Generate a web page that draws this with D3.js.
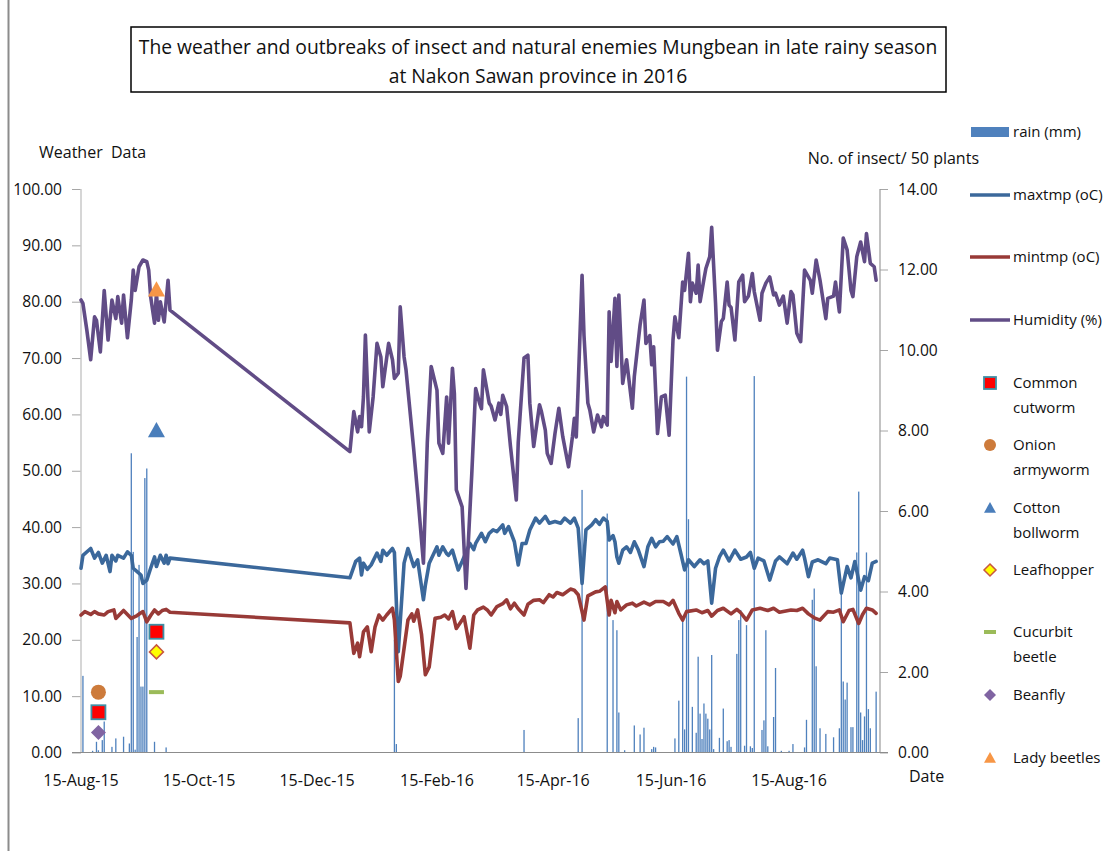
<!DOCTYPE html>
<html>
<head>
<meta charset="utf-8">
<script src="https://cdn.jsdelivr.net/npm/d3@7"></script>
<style>
  body { margin: 0; background: #fff; }
  text { font-family: "Open Sans", sans-serif; fill: #111; }
</style>
</head>
<body>
<svg id="chart" width="1113" height="851"></svg>
<script>
// weather series as [date, value]
const humidity = [
  ["2015-08-15",80.3],["2015-08-16",79.7],["2015-08-18",75],["2015-08-20",69.7],["2015-08-22",77.3],["2015-08-23",76.7],
  ["2015-08-25",71.1],["2015-08-27",82],["2015-08-29",73.2],["2015-08-31",80.3],["2015-09-02",77],["2015-09-03",80.9],
  ["2015-09-05",76.2],["2015-09-06",81.2],["2015-09-08",73.6],["2015-09-10",80.3],["2015-09-11",85.6],["2015-09-12",82],
  ["2015-09-14",86.2],["2015-09-16",87.4],["2015-09-18",87.1],["2015-09-19",85.6],["2015-09-20",80.9],["2015-09-22",76.2],
  ["2015-09-23",81.5],["2015-09-24",76.7],["2015-09-25",80],["2015-09-27",76.4],["2015-09-29",83.8],["2015-09-30",78.5],
  ["2016-01-01",53.4],["2016-01-03",60.5],["2016-01-05",56.9],["2016-01-06",59.6],["2016-01-07",57.8],["2016-01-08",63.1],
  ["2016-01-09",74.1],["2016-01-11",56.9],["2016-01-13",63.1],["2016-01-15",72.6],["2016-01-17",70.2],["2016-01-18",64.9],
  ["2016-01-21",72.6],["2016-01-23",69.7],["2016-01-24",66.4],["2016-01-26",67.3],["2016-01-27",79.1],["2016-01-29",70.2],
  ["2016-01-30",67.9],["2016-02-03",53.7],["2016-02-05",46],["2016-02-08",33.6],["2016-02-10",55],["2016-02-12",68.5],
  ["2016-02-15",64.3],["2016-02-16",54.9],["2016-02-18",53.1],["2016-02-20",63.1],["2016-02-21",54.9],["2016-02-23",68.2],
  ["2016-02-24",63.7],["2016-02-25",46.6],["2016-02-28",43.6],["2016-03-01",29.1],["2016-03-04",49.5],["2016-03-06",64.6],
  ["2016-03-08",62],["2016-03-09",61],["2016-03-10",67.9],["2016-03-13",62],["2016-03-14",61.5],["2016-03-16",59],
  ["2016-03-18",62],["2016-03-19",60],["2016-03-20",63.4],["2016-03-22",61.4],["2016-03-24",54.3],["2016-03-27",44.8],
  ["2016-03-28",55],["2016-03-31",70],["2016-04-02",70.5],["2016-04-03",62],["2016-04-05",54.3],["2016-04-08",61.7],
  ["2016-04-09",60.5],["2016-04-11",57.2],["2016-04-12",53.1],["2016-04-14",51.3],["2016-04-16",56.6],["2016-04-18",61.1],
  ["2016-04-20",56.1],["2016-04-23",50.7],["2016-04-25",56],["2016-04-26",59.3],["2016-04-27",56],["2016-04-28",65],
  ["2016-04-30",84.7],["2016-05-01",74],["2016-05-03",62],["2016-05-04",60.8],["2016-05-06",56.9],["2016-05-08",59.9],
  ["2016-05-10",57.8],["2016-05-11",59.6],["2016-05-13",58.1],["2016-05-14",78.2],["2016-05-15",69.4],["2016-05-17",80.6],
  ["2016-05-18",68.5],["2016-05-19",81.2],["2016-05-21",65.5],["2016-05-23",69.7],["2016-05-26",61.1],["2016-05-27",66.7],
  ["2016-05-30",75.9],["2016-06-01",80.3],["2016-06-02",72.6],["2016-06-04",74],["2016-06-05",68.8],["2016-06-06",72],
  ["2016-06-08",56.6],["2016-06-10",63.1],["2016-06-12",63.4],["2016-06-14",56.3],["2016-06-16",73.2],["2016-06-17",77.3],
  ["2016-06-19",73.6],["2016-06-21",83.5],["2016-06-22",82],["2016-06-24",88.6],["2016-06-25",80],["2016-06-26",83.3],
  ["2016-06-28",81.5],["2016-06-29",86.5],["2016-06-30",80],["2016-07-02",84],["2016-07-03",85.9],["2016-07-05",88],
  ["2016-07-06",93.2],["2016-07-08",79.7],["2016-07-09",71.4],["2016-07-11",76.5],["2016-07-12",77],["2016-07-14",83.5],
  ["2016-07-15",79.4],["2016-07-16",79],["2016-07-18",73.2],["2016-07-20",83.5],["2016-07-22",84.7],["2016-07-23",80],
  ["2016-07-25",81],["2016-07-27",85],["2016-07-28",81.8],["2016-07-31",76.7],["2016-08-01",81.5],["2016-08-03",83.3],
  ["2016-08-05",84.4],["2016-08-07",81.2],["2016-08-08",81.5],["2016-08-10",79.4],["2016-08-12",81],["2016-08-14",76.2],
  ["2016-08-16",81.8],["2016-08-17",81.2],["2016-08-19",74.4],["2016-08-21",72.9],["2016-08-23",85.6],["2016-08-26",83.8],
  ["2016-08-27",81.5],["2016-08-29",87.4],["2016-08-31",83.8],["2016-09-03",77],["2016-09-04",80.6],["2016-09-07",81],
  ["2016-09-08",83.5],["2016-09-10",78.2],["2016-09-12",91.3],["2016-09-14",89.2],["2016-09-16",82],["2016-09-17",80.9],
  ["2016-09-19",88],["2016-09-21",90.6],["2016-09-23",87.1],["2016-09-24",92.1],["2016-09-26",86.8],["2016-09-28",86.2],
  ["2016-09-29",83.8]
];

const maxtmp = [
  ["2015-08-15",32.7],["2015-08-16",35],["2015-08-20",36.2],["2015-08-22",34.5],["2015-08-24",35.5],["2015-08-26",33.6],
  ["2015-08-28",35],["2015-08-30",32.1],["2015-08-31",35],["2015-09-02",34],["2015-09-03",35],["2015-09-06",34.5],
  ["2015-09-08",35.6],["2015-09-10",35],["2015-09-11",32.7],["2015-09-13",32.1],["2015-09-15",31.5],["2015-09-16",30],
  ["2015-09-18",30.6],["2015-09-20",32.7],["2015-09-22",34.7],["2015-09-23",33],["2015-09-25",35],["2015-09-27",33.6],
  ["2015-09-28",35],["2015-09-29",33.5],["2015-09-30",34.5],
  ["2016-01-01",31],["2016-01-04",33.9],["2016-01-06",34.5],["2016-01-07",31.5],["2016-01-08",33.6],["2016-01-10",32.5],
  ["2016-01-12",33.3],["2016-01-15",35.4],["2016-01-17",33.9],["2016-01-18",35.9],["2016-01-20",35],["2016-01-23",36.2],
  ["2016-01-24",35.5],["2016-01-26",17.9],["2016-01-29",33.6],["2016-01-31",36.2],["2016-02-03",33],["2016-02-05",34.2],
  ["2016-02-08",27.1],["2016-02-09",29.7],["2016-02-11",33.6],["2016-02-15",36.5],["2016-02-16",35],["2016-02-18",36.5],
  ["2016-02-20",35.3],["2016-02-21",35],["2016-02-23",35.9],["2016-02-26",32.4],["2016-02-28",33.9],["2016-02-29",34.7],
  ["2016-03-03",37.1],["2016-03-05",36],["2016-03-06",37.1],["2016-03-09",38.9],["2016-03-11",37.4],["2016-03-13",38.9],
  ["2016-03-15",39.5],["2016-03-17",39.2],["2016-03-20",40.4],["2016-03-21",38.9],["2016-03-23",40.1],["2016-03-26",37.4],
  ["2016-03-28",33.3],["2016-03-30",37.1],["2016-04-01",37.1],["2016-04-03",39.5],["2016-04-06",41.6],["2016-04-08",40.7],
  ["2016-04-11",41.9],["2016-04-13",40.7],["2016-04-16",41],["2016-04-19",40.7],["2016-04-21",41.6],["2016-04-24",40.7],
  ["2016-04-26",41.6],["2016-04-28",39.8],["2016-04-30",30],["2016-05-02",39.5],["2016-05-05",40.4],["2016-05-07",41.3],
  ["2016-05-09",40.5],["2016-05-11",41.6],["2016-05-13",41],["2016-05-14",37.7],["2016-05-16",38.5],["2016-05-17",37.4],
  ["2016-05-18",34.7],["2016-05-19",33.6],["2016-05-21",35.9],["2016-05-23",36.5],["2016-05-25",35.5],["2016-05-27",37.4],
  ["2016-05-29",36],["2016-06-01",33],["2016-06-03",36.5],["2016-06-05",38],["2016-06-07",36.5],["2016-06-09",37.4],
  ["2016-06-11",37.5],["2016-06-13",38.3],["2016-06-16",37],["2016-06-18",38.3],["2016-06-20",35.4],["2016-06-22",32.4],
  ["2016-06-24",34.2],["2016-06-27",33],["2016-06-30",34.2],["2016-07-02",33.5],["2016-07-04",34],["2016-07-06",26.5],
  ["2016-07-08",32.7],["2016-07-10",34.7],["2016-07-12",35.9],["2016-07-15",34],["2016-07-18",35.9],["2016-07-21",34.3],
  ["2016-07-24",34.7],["2016-07-26",35.5],["2016-07-28",32.7],["2016-07-30",34.5],["2016-08-02",34],["2016-08-05",30.6],
  ["2016-08-08",34],["2016-08-10",34.7],["2016-08-14",33.5],["2016-08-17",35.4],["2016-08-19",34.3],["2016-08-22",35.9],
  ["2016-08-23",34.5],["2016-08-25",31.2],["2016-08-27",33.8],["2016-08-30",34.2],["2016-09-03",33.5],["2016-09-05",34.5],
  ["2016-09-09",34.2],["2016-09-11",28.3],["2016-09-14",33],["2016-09-16",31],["2016-09-18",33.9],["2016-09-21",28.8],
  ["2016-09-23",31.2],["2016-09-25",30.5],["2016-09-27",33.6],["2016-09-29",33.9]
];

const mintmp = [
  ["2015-08-15",24.4],["2015-08-17",25],["2015-08-20",24.5],["2015-08-22",25],["2015-08-24",24.6],["2015-08-27",24.4],
  ["2015-08-29",25],["2015-09-01",25.3],["2015-09-02",23.8],["2015-09-06",25.2],["2015-09-08",24.5],["2015-09-10",23.8],
  ["2015-09-13",24.3],["2015-09-15",24.8],["2015-09-16",25],["2015-09-18",23.2],["2015-09-20",24.3],["2015-09-22",25.3],
  ["2015-09-24",24.6],["2015-09-26",25.2],["2015-09-28",25.4],["2015-09-30",24.9],
  ["2016-01-01",23],["2016-01-03",17.6],["2016-01-05",19.4],["2016-01-06",17],["2016-01-08",21.4],["2016-01-10",22.3],
  ["2016-01-12",17.9],["2016-01-14",22.3],["2016-01-16",24.4],["2016-01-18",23.5],["2016-01-20",24.4],["2016-01-23",25.6],
  ["2016-01-24",23.5],["2016-01-26",12.6],["2016-01-27",13.5],["2016-01-31",23.5],["2016-02-02",24.6],["2016-02-03",23.3],
  ["2016-02-05",25.3],["2016-02-07",21],["2016-02-09",13.8],["2016-02-11",15.2],["2016-02-14",23.8],["2016-02-17",24],
  ["2016-02-19",24.4],["2016-02-21",23.7],["2016-02-23",25],["2016-02-25",22],["2016-02-28",23.5],["2016-02-29",24.1],
  ["2016-03-03",18.5],["2016-03-05",24.4],["2016-03-07",25.3],["2016-03-10",25.8],["2016-03-12",25.3],["2016-03-14",24.4],
  ["2016-03-17",25.9],["2016-03-20",26.4],["2016-03-22",27.1],["2016-03-24",25.5],["2016-03-26",26.5],["2016-03-28",25.5],
  ["2016-03-31",24.4],["2016-04-02",26.3],["2016-04-05",27],["2016-04-08",27.1],["2016-04-10",26.6],["2016-04-13",28],
  ["2016-04-15",27.6],["2016-04-17",28.4],["2016-04-20",28],["2016-04-24",29],["2016-04-26",28.8],["2016-04-28",28],
  ["2016-05-01",23.5],["2016-05-03",27.8],["2016-05-07",28.5],["2016-05-09",28.6],["2016-05-12",29.4],["2016-05-14",24.4],
  ["2016-05-15",27],["2016-05-17",24.8],["2016-05-18",26.8],["2016-05-20",25.3],["2016-05-23",26.2],["2016-05-26",26.5],
  ["2016-05-28",26],["2016-06-01",26.7],["2016-06-04",26.2],["2016-06-07",26.8],["2016-06-11",26.8],["2016-06-14",26.2],
  ["2016-06-16",27],["2016-06-19",24.7],["2016-06-21",23.5],["2016-06-23",25],["2016-06-28",25.3],["2016-07-01",24.8],
  ["2016-07-04",25.2],["2016-07-06",24.2],["2016-07-09",25.2],["2016-07-12",25.6],["2016-07-16",24.6],["2016-07-19",25.4],
  ["2016-07-21",24.8],["2016-07-24",23.5],["2016-07-27",25.3],["2016-07-31",25.6],["2016-08-04",25.2],["2016-08-07",25.6],
  ["2016-08-10",24.9],["2016-08-16",25.3],["2016-08-19",25.2],["2016-08-22",25.6],["2016-08-25",24.6],["2016-08-28",23.9],
  ["2016-08-31",23.5],["2016-09-04",25],["2016-09-07",24.9],["2016-09-10",25.3],["2016-09-12",23.2],["2016-09-15",25.2],
  ["2016-09-17",25.4],["2016-09-20",22.9],["2016-09-22",24.5],["2016-09-24",25.6],["2016-09-27",25.3],["2016-09-29",24.7]
];

const rain = [
  ["2015-08-16",13.6],["2015-08-21",0.3],["2015-08-23",1.9],["2015-08-24",0.4],["2015-08-26",2.2],["2015-08-27",5.5],
  ["2015-08-31",1],["2015-09-02",2.5],["2015-09-06",2.8],["2015-09-09",1.6],["2015-09-10",53.1],["2015-09-11",35.6],
  ["2015-09-12",0.5],["2015-09-13",20.5],["2015-09-14",33.3],["2015-09-15",11.7],["2015-09-16",11.7],["2015-09-17",48.7],
  ["2015-09-18",50.4],["2015-09-22",1.9],["2015-09-28",0.9],
  ["2016-01-24",20],["2016-01-25",1.5],["2016-03-31",4],["2016-04-28",6.1],["2016-04-30",46.6],["2016-05-13",42.4],
  ["2016-05-16",23.5],["2016-05-18",21.7],["2016-05-19",7.1],["2016-05-22",0.4],["2016-05-27",4.8],["2016-05-30",3.2],
  ["2016-06-01",4.4],["2016-06-05",0.6],["2016-06-06",1],["2016-06-07",0.9],["2016-06-17",2.5],["2016-06-19",9.2],
  ["2016-06-21",24],["2016-06-22",4.1],["2016-06-23",66.7],["2016-06-24",41.4],["2016-06-26",8.1],["2016-06-28",3.5],
  ["2016-06-29",17],["2016-06-30",6.9],["2016-07-01",2.4],["2016-07-02",8.7],["2016-07-03",6.9],["2016-07-04",6],
  ["2016-07-05",4.1],["2016-07-06",17.3],["2016-07-07",0.6],["2016-07-10",2.6],["2016-07-12",7.8],["2016-07-14",2],
  ["2016-07-15",2.2],["2016-07-16",1],["2016-07-19",17.5],["2016-07-20",23.5],["2016-07-21",25.3],["2016-07-23",1.2],
  ["2016-07-24",22.6],["2016-07-26",1.1],["2016-07-27",0.8],["2016-07-28",66.8],["2016-08-01",4],["2016-08-02",5.7],
  ["2016-08-03",21.7],["2016-08-04",1.1],["2016-08-07",6.3],["2016-08-08",15],["2016-08-11",0.3],["2016-08-15",0.3],
  ["2016-08-17",1.5],["2016-08-23",0.9],["2016-08-24",5.8],["2016-08-27",27.1],["2016-08-28",29.1],["2016-08-29",15.3],
  ["2016-08-31",4.3],["2016-09-03",3.3],["2016-09-07",2.7],["2016-09-10",4.3],["2016-09-11",28.3],["2016-09-12",12.6],
  ["2016-09-13",9.4],["2016-09-14",12.4],["2016-09-16",4.5],["2016-09-17",4.5],["2016-09-19",35.5],["2016-09-20",46.3],
  ["2016-09-21",7.1],["2016-09-22",2.2],["2016-09-23",6.4],["2016-09-24",35.5],["2016-09-25",7.7],["2016-09-26",4.3],
  ["2016-09-29",10.8]
];

// insects and natural enemies, count per 50 plants (right axis)
const insectNames = ["Common cutworm", "Onion armyworm", "Cotton bollworm", "Leafhopper", "Cucurbit beetle", "Beanfly", "Lady beetles"];
const insectCounts = [
  [["2015-08-24",1],["2015-09-23",3]],
  [["2015-08-24",1.5]],
  [["2015-09-23",8]],
  [["2015-09-23",2.5]],
  [["2015-09-23",1.5]],
  [["2015-08-24",0.5]],
  [["2015-09-23",11.5]]
];

const xTickLabels = ["15-Aug-15", "15-Oct-15", "15-Dec-15", "15-Feb-16", "15-Apr-16", "15-Jun-16", "15-Aug-16"];
const leftTicks = [0, 10, 20, 30, 40, 50, 60, 70, 80, 90, 100];
const rightTicks = [0, 2, 4, 6, 8, 10, 12, 14];

const parseDate = d3.timeParse("%Y-%m-%d");
const parseTick = d3.timeParse("%d-%b-%y");

const svg = d3.select("#chart");

// left border of the chart area
svg.append("line").attr("x1", 8.5).attr("x2", 8.5).attr("y1", 0).attr("y2", 851)
  .attr("stroke", "#8c8c8c").attr("stroke-width", 2);

// title box
svg.append("rect").attr("x", 131).attr("y", 27).attr("width", 815).attr("height", 65)
  .attr("fill", "#fff").attr("stroke", "#000").attr("stroke-width", 1.5);
svg.append("text").attr("x", 538).attr("y", 54).attr("text-anchor", "middle").attr("font-size", 19.3)
  .text("The weather and outbreaks of insect and natural enemies Mungbean in late rainy season");
svg.append("text").attr("x", 538).attr("y", 83).attr("text-anchor", "middle").attr("font-size", 19.3)
  .text("at Nakon Sawan province in 2016");

const x = d3.scaleTime()
  .domain([parseDate("2015-08-15"), parseDate("2016-10-01")])
  .range([81, 880]);
const y = d3.scaleLinear().domain([0, 100]).range([752.5, 189]);
const y2 = d3.scaleLinear().domain([0, 14]).range([752.5, 189]);

// rain bars
svg.append("g").selectAll("rect").data(rain).join("rect")
  .attr("x", d => x(parseDate(d[0])) - 0.65)
  .attr("width", 1.3)
  .attr("y", d => y(d[1]))
  .attr("height", d => y(0) - y(d[1]))
  .attr("fill", "#4F81BD");

// axes
const leftAxis = svg.append("g").attr("transform", "translate(81,0)")
  .call(d3.axisLeft(y).tickValues(leftTicks).tickFormat(d3.format(".2f")).tickSize(9).tickPadding(10));
const rightAxis = svg.append("g").attr("transform", "translate(880,0)")
  .call(d3.axisRight(y2).tickValues(rightTicks).tickFormat(d3.format(".2f")).tickSize(8).tickPadding(10));
[leftAxis, rightAxis].forEach(g => {
  g.select(".domain").remove();
  g.selectAll(".tick line").attr("stroke", "#a6a6a6");
  g.selectAll("text").attr("font-size", 15.6).attr("fill", "#111").attr("font-family", "Open Sans, sans-serif");
});
svg.append("line").attr("x1", 81).attr("x2", 81).attr("y1", 189).attr("y2", 752.5)
  .attr("stroke", "#c8c8c8").attr("stroke-width", 1.5);
svg.append("line").attr("x1", 880).attr("x2", 880).attr("y1", 189).attr("y2", 752.5)
  .attr("stroke", "#9a9a9a").attr("stroke-width", 1.2);
svg.append("line").attr("x1", 72).attr("x2", 888).attr("y1", 752.5).attr("y2", 752.5)
  .attr("stroke", "#8c8c8c").attr("stroke-width", 1.2);

svg.append("g").selectAll("text").data(xTickLabels).join("text")
  .attr("x", d => x(parseTick(d)))
  .attr("y", 785.5)
  .attr("text-anchor", "middle")
  .attr("font-size", 16)
  .text(d => d);

// axis titles
svg.append("text").attr("x", 39).attr("y", 157.5).attr("font-size", 16)
  .attr("xml:space", "preserve").text("Weather\u00a0\u00a0Data");
svg.append("text").attr("x", 979).attr("y", 163.5).attr("text-anchor", "end").attr("font-size", 16)
  .text("No. of insect/ 50 plants");
svg.append("text").attr("x", 909).attr("y", 781.5).attr("font-size", 16).text("Date");

// weather lines
const line = d3.line().x(d => x(parseDate(d[0]))).y(d => y(d[1]));
const seriesStyle = [
  { data: maxtmp, color: "#3B689B" },
  { data: mintmp, color: "#983A37" },
  { data: humidity, color: "#614C86" }
];
seriesStyle.forEach(s => {
  svg.append("path").datum(s.data).attr("d", line)
    .attr("fill", "none").attr("stroke", s.color).attr("stroke-width", 3.6)
    .attr("stroke-linejoin", "round").attr("stroke-linecap", "round");
});

// marker shapes
const markerStyle = [
  { shape: "square", fill: "#FF0000", stroke: "#3F8FA6", sw: 1.8 },
  { shape: "circle", fill: "#CD7B3B", stroke: "none", sw: 0 },
  { shape: "triangle", fill: "#4A7EBB", stroke: "none", sw: 0 },
  { shape: "diamond", fill: "#FFFF00", stroke: "#C8573E", sw: 1.5 },
  { shape: "dash", fill: "#9BBB59", stroke: "none", sw: 0 },
  { shape: "diamond", fill: "#8064A2", stroke: "none", sw: 0 },
  { shape: "triangle", fill: "#F79646", stroke: "none", sw: 0 }
];

function drawMarker(g, st, cx, cy, s) {
  // s: full width of the marker
  const h = s / 2;
  let el;
  if (st.shape === "square") {
    el = g.append("rect").attr("x", cx - h).attr("y", cy - h).attr("width", s).attr("height", s);
  } else if (st.shape === "circle") {
    el = g.append("circle").attr("cx", cx).attr("cy", cy).attr("r", h);
  } else if (st.shape === "triangle") {
    el = g.append("path").attr("d", `M${cx},${cy - h}L${cx + h},${cy + h * 0.8}L${cx - h},${cy + h * 0.8}Z`);
  } else if (st.shape === "diamond") {
    el = g.append("path").attr("d", `M${cx},${cy - h}L${cx + h},${cy}L${cx},${cy + h}L${cx - h},${cy}Z`);
  } else {
    el = g.append("rect").attr("x", cx - h).attr("y", cy - 2).attr("width", s).attr("height", 4);
  }
  el.attr("fill", st.fill).attr("stroke", st.stroke).attr("stroke-width", st.sw);
}

const markerG = svg.append("g");
const chartSize = [14, 15, 17, 14, 15, 15, 17];
insectCounts.forEach((pts, i) => {
  pts.forEach(p => drawMarker(markerG, markerStyle[i], x(parseDate(p[0])), y2(p[1]), chartSize[i]));
});

// legend
const lg = svg.append("g");
lg.append("rect").attr("x", 971).attr("y", 127).attr("width", 38).attr("height", 10).attr("fill", "#4F81BD");
lg.append("text").attr("x", 1013).attr("y", 137).attr("font-size", 15).text("rain (mm)");
const legendLines = [
  { label: "maxtmp (oC)", color: "#3B689B", y: 195 },
  { label: "mintmp (oC)", color: "#983A37", y: 257 },
  { label: "Humidity (%)", color: "#614C86", y: 320 }
];
legendLines.forEach(l => {
  lg.append("line").attr("x1", 970).attr("x2", 1010).attr("y1", l.y).attr("y2", l.y)
    .attr("stroke", l.color).attr("stroke-width", 3.5);
  lg.append("text").attr("x", 1013).attr("y", l.y + 5).attr("font-size", 15).text(l.label);
});
const legendY = [383, 445, 508, 570, 632, 695, 758];
insectNames.forEach((name, i) => {
  drawMarker(lg, markerStyle[i], 990, legendY[i], 12);
  const words = name === "Lady beetles" ? [name] : name.split(" ");
  words.forEach((w, j) => {
    lg.append("text").attr("x", 1013).attr("y", legendY[i] + 5 + j * 24.5).attr("font-size", 15).text(w);
  });
});
</script>
</body>
</html>
